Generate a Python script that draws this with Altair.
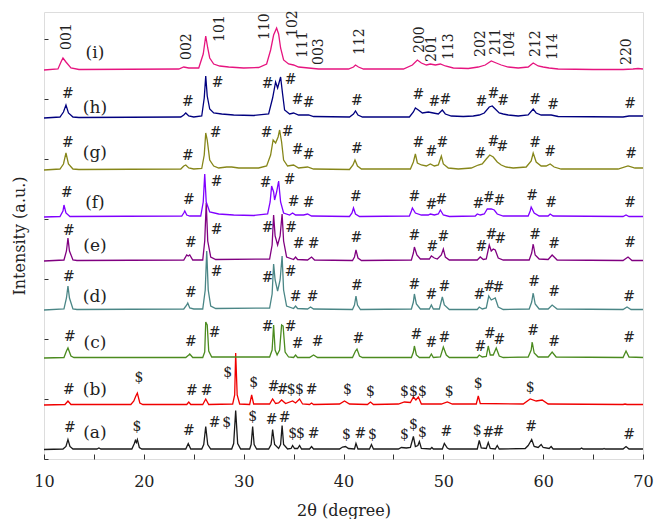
import altair as alt
import pandas as pd

FONT = "DejaVu Serif"
TEXT_COLOR = "#222222"

TRACES = ["a", "b", "c", "d", "e", "f", "g", "h", "i"]
OFFSETS = [9.5, 54, 101, 149, 198, 242, 289, 341, 389]
COLORS = ["#1a1a1a", "#f00000", "#4b8b1f", "#4a8686", "#800080",
          "#8000ff", "#868619", "#00007f", "#e6147f"]

# (2theta, relative intensity) knots
A_PTS = [(10.0, 0), (11.9, 0.5), (12.2, 3), (12.4, 10), (12.6, 3), (12.9, 0.5), (15.3, 0.5), (15.5, 1.5),
         (15.7, 0.5), (18.8, 0.5), (19.05, 6), (19.15, 9), (19.25, 7), (19.35, 10), (19.55, 2), (19.8, 0.5),
         (24.2, 0.5), (24.45, 6), (24.7, 0.5), (25.8, 0.5), (26.0, 5), (26.2, 23), (26.4, 5), (26.7, 0.5),
         (28.8, 0.5), (29.0, 6), (29.2, 39), (29.4, 6), (29.7, 0.5), (30.6, 0.5), (30.75, 5), (30.9, 23),
         (31.05, 5), (31.3, 0.5), (32.5, 0.5), (32.75, 5), (32.9, 20), (33.1, 5), (33.5, 1), (33.7, 5),
         (33.85, 24), (34.0, 5), (34.4, 0.5), (34.75, 1), (34.9, 4), (35.1, 1), (35.4, 1), (35.6, 4),
         (35.8, 0.5), (36.6, 0.5), (36.8, 3), (37.0, 0.5), (39.6, 0.5), (39.9, 2.5), (40.2, 3), (40.5, 1),
         (41.1, 0.5), (41.25, 6), (41.45, 0.5), (42.6, 0.5), (42.8, 5), (43.0, 0.5), (45.5, 0.5), (45.8, 2),
         (46.3, 1.5), (46.7, 2), (47.0, 13), (47.2, 3), (47.45, 4), (47.6, 8), (47.8, 1), (48.7, 0.5),
         (48.85, 2), (49.0, 0.5), (49.9, 0.5), (50.1, 6), (50.4, 1.5), (50.6, 0.5), (53.4, 0.5), (53.6, 9),
         (53.8, 1.5), (54.3, 1), (54.5, 7), (54.7, 1), (55.2, 0.5), (55.4, 4), (55.6, 0.5), (58.2, 1),
         (58.5, 4), (58.85, 10), (59.1, 3), (59.5, 2), (59.8, 5), (60.0, 2), (60.6, 1), (60.8, 3),
         (61.0, 0.5), (63.7, 0.5), (63.85, 1.5), (64.0, 0.5), (66.0, 0.5), (66.1, 1), (66.2, 0.5),
         (68.0, 0.5), (68.3, 3), (68.6, 0.5), (70.0, 0.5)]

B_PTS = [(10, 0), (12.1, 0.5), (12.4, 4), (12.7, 0.5), (18.7, 0.5), (19.0, 4), (19.2, 9), (19.35, 12),
         (19.6, 2), (19.9, 0.5), (24.3, 0.5), (24.5, 3), (24.7, 0.5), (25.9, 0.5), (26.2, 6), (26.5, 0.5),
         (28.9, 1), (29.1, 10), (29.2, 52), (29.35, 10), (29.6, 1), (30.6, 0.5), (30.8, 10), (31.0, 1),
         (32.6, 1), (32.9, 6), (33.2, 1.5), (33.5, 2), (33.8, 5), (34.2, 1.5), (34.9, 4), (35.2, 2),
         (35.6, 6), (35.9, 1), (36.6, 0.5), (36.8, 2), (37.0, 0.5), (39.6, 1), (40.1, 4), (40.6, 1),
         (42.4, 0.5), (42.7, 3), (43.0, 0.5), (45.5, 1), (46.1, 3), (46.7, 2.5), (47.0, 8), (47.25, 5),
         (47.5, 8), (47.8, 1), (49.8, 1), (50.4, 3), (50.9, 1), (53.3, 1), (53.5, 9), (53.7, 1.5),
         (58.0, 1), (58.7, 6), (59.3, 4), (59.9, 5), (60.5, 1), (68.0, 0.5), (68.2, 1), (68.4, 0.5),
         (70, 0.5)]

C_PTS = [(10, 0), (12.0, 0.5), (12.25, 7), (12.4, 10), (12.7, 2), (13.0, 0.5), (24.2, 0.5), (24.5, 3),
         (24.6, 4), (24.9, 0.5), (25.9, 0.5), (26.1, 6), (26.2, 36), (26.35, 33), (26.5, 7), (26.8, 1),
         (32.6, 1), (32.85, 8), (33.0, 33), (33.15, 8), (33.35, 3), (33.6, 8), (33.8, 33), (33.95, 32),
         (34.15, 6), (34.5, 1), (35.0, 0.5), (35.2, 3), (35.4, 0.5), (36.6, 0.5), (37.0, 3), (37.4, 0.5),
         (40.9, 0.5), (41.2, 7), (41.35, 9), (41.6, 2), (41.9, 0.5), (46.8, 0.5), (47.0, 6), (47.1, 12),
         (47.3, 3), (47.6, 0.5), (48.6, 0.5), (48.8, 4), (49.0, 0.5), (49.7, 1), (50.0, 11), (50.3, 3),
         (50.6, 0.5), (53.4, 0.5), (53.6, 3), (53.9, 1), (54.3, 1.5), (54.5, 12), (54.7, 3), (55.0, 3),
         (55.3, 10), (55.6, 2), (56.0, 0.5), (58.5, 1), (58.8, 8), (58.9, 16), (59.1, 5), (59.5, 1),
         (60.5, 1), (60.9, 6), (61.3, 1), (68.0, 0.5), (68.3, 7), (68.6, 1), (70, 0.5)]

D_PTS = [(10, 0), (12.0, 1), (12.25, 12), (12.4, 24), (12.55, 12), (12.9, 1), (13.3, 0.5), (24.0, 1),
         (24.3, 5), (24.4, 7), (24.6, 2), (25.0, 1), (25.9, 1), (26.15, 20), (26.3, 59), (26.45, 20),
         (26.7, 4), (27.2, 1.5), (32.6, 2), (32.85, 16), (33.0, 46), (33.15, 30), (33.4, 19), (33.65, 30),
         (33.85, 54), (34.0, 20), (34.3, 4), (35.0, 1.5), (35.2, 4), (35.4, 1.5), (36.4, 1), (36.7, 3),
         (37.0, 1), (40.9, 0.5), (41.1, 5), (41.25, 14), (41.4, 5), (41.7, 0.5), (46.8, 1), (47.0, 8),
         (47.1, 16), (47.3, 6), (47.7, 1), (48.6, 1), (48.8, 5), (49.0, 1), (49.6, 1), (49.9, 13),
         (50.1, 5), (50.6, 0.5), (53.4, 0.5), (53.6, 3), (53.9, 1), (54.3, 2), (54.55, 14), (54.8, 10),
         (55.2, 12), (55.5, 3), (56.0, 0.5), (58.6, 1), (58.85, 8), (59.0, 17), (59.2, 6), (59.6, 1),
         (60.5, 1), (60.9, 5), (61.4, 1), (68.0, 0.5), (68.4, 3), (68.8, 0.5), (70, 0.5)]

E_PTS = [(10, 0), (12.0, 1), (12.25, 10), (12.4, 23), (12.55, 10), (12.9, 1), (13.3, 0.5), (24.0, 1),
         (24.3, 6), (24.45, 5), (24.6, 6), (24.9, 1), (25.9, 1), (26.1, 20), (26.25, 58), (26.4, 20),
         (26.7, 4), (27.2, 1.5), (32.6, 2), (32.85, 16), (33.0, 46), (33.15, 25), (33.4, 16), (33.65, 25),
         (33.85, 47), (34.0, 20), (34.3, 4), (35.0, 1.5), (35.2, 4), (35.4, 1.5), (36.4, 1), (36.8, 4),
         (37.1, 1), (40.9, 0.5), (41.1, 4), (41.25, 11), (41.45, 3), (41.8, 0.5), (46.8, 1), (47.0, 8),
         (47.1, 14), (47.35, 6), (47.7, 2), (48.6, 2), (48.8, 5), (49.1, 3), (49.4, 2), (49.8, 6),
         (50.0, 12), (50.2, 4), (50.6, 1), (53.4, 1), (53.7, 4), (54.0, 1.5), (54.3, 2), (54.6, 16),
         (54.8, 10), (55.0, 12), (55.2, 11), (55.5, 3), (56.0, 1), (58.6, 1), (58.85, 8), (59.0, 17),
         (59.2, 6), (59.6, 2), (60.5, 1.5), (60.9, 6), (61.4, 1), (68.0, 0.5), (68.5, 4), (68.9, 0.5),
         (70, 0.5)]

F_PTS = [(10, 0), (11.6, 0.5), (11.9, 6), (12.0, 12), (12.2, 4), (12.6, 0.5), (23.8, 1), (24.0, 4),
         (24.1, 6), (24.3, 2), (24.6, 1), (25.7, 1), (25.95, 15), (26.1, 43), (26.25, 15), (26.6, 5),
         (27.5, 3), (29.0, 2), (31.0, 1.5), (32.4, 3), (32.65, 15), (32.8, 31), (33.0, 25), (33.1, 17),
         (33.3, 25), (33.5, 36), (33.7, 15), (34.0, 4), (34.6, 2), (34.9, 4), (35.2, 2), (36.0, 2),
         (36.4, 3), (36.8, 1), (40.6, 0.5), (40.85, 4), (41.0, 9), (41.2, 3), (41.6, 0.5), (46.6, 1),
         (46.8, 6), (46.9, 9), (47.2, 4), (47.8, 2), (48.5, 2), (48.7, 3), (49.1, 2), (49.5, 3),
         (49.7, 7), (50.0, 2), (50.6, 0.5), (53.2, 1), (53.4, 3), (53.7, 2), (54.1, 3), (54.4, 8),
         (54.8, 8), (55.1, 7), (55.4, 3), (56.0, 1), (58.5, 1), (58.7, 6), (58.8, 10), (59.1, 4),
         (59.6, 1), (60.5, 1), (60.7, 3), (61.0, 1), (68.0, 0.5), (68.3, 2), (68.6, 0.5), (70, 0.5)]

G_PTS = [(10, 0), (11.6, 1), (11.95, 6), (12.2, 17), (12.45, 6), (12.9, 1), (13.5, 0.5), (23.7, 1),
         (24.0, 4), (24.2, 5), (24.5, 2), (25.0, 1), (25.8, 1.5), (26.05, 15), (26.2, 37), (26.35, 30),
         (26.6, 10), (27.0, 4), (27.5, 2), (28.3, 3), (28.8, 3), (29.5, 2), (31.5, 2), (32.3, 4),
         (32.7, 15), (32.95, 30), (33.2, 27), (33.45, 33), (33.6, 40), (33.8, 28), (34.0, 10), (34.4, 4),
         (35.0, 5), (35.5, 2), (36.4, 3), (37.0, 1), (40.6, 0.5), (40.95, 5), (41.15, 10), (41.4, 4),
         (41.8, 1), (46.7, 1), (47.0, 8), (47.2, 16), (47.4, 7), (47.8, 5), (48.3, 4), (48.7, 6),
         (49.1, 4), (49.5, 5), (49.8, 14), (50.0, 6), (50.5, 2), (51.5, 1), (52.8, 2), (53.5, 5),
         (53.9, 6), (54.3, 11), (54.65, 15), (55.0, 13), (55.4, 8), (55.8, 5), (56.3, 3), (57.0, 2),
         (58.3, 3), (58.8, 9), (59.0, 17), (59.3, 8), (59.8, 4), (60.3, 4), (60.7, 6), (61.1, 3),
         (61.8, 1), (67.5, 1), (68.5, 4), (69.2, 2), (70, 2)]

H_PTS = [(10, 0), (11.6, 1), (11.95, 6), (12.2, 13), (12.45, 5), (12.9, 1), (13.5, 0.5), (23.7, 1),
         (24.0, 3), (24.2, 5), (24.5, 2), (25.0, 1), (25.8, 2), (26.05, 20), (26.2, 42), (26.35, 22),
         (26.6, 9), (27.0, 5), (27.8, 4), (29.0, 3), (31.0, 2.5), (32.5, 4), (32.9, 20), (33.2, 36),
         (33.4, 30), (33.7, 41), (33.9, 24), (34.1, 8), (34.6, 4), (35.0, 5), (35.5, 3), (36.5, 3),
         (37.0, 1.5), (40.6, 1), (41.0, 4), (41.2, 7), (41.45, 3), (41.9, 1), (46.6, 1), (47.0, 6),
         (47.2, 10), (47.5, 8), (47.9, 5), (48.5, 6), (49.0, 5), (49.5, 4), (49.9, 8), (50.2, 4),
         (50.8, 2), (52.0, 1.5), (53.0, 2), (53.6, 3), (54.1, 5), (54.6, 11), (54.9, 12), (55.2, 9),
         (55.6, 5), (56.0, 4), (56.5, 3), (57.5, 2), (58.5, 3), (59.0, 9), (59.3, 5), (59.8, 3),
         (60.8, 3), (61.5, 1.5), (68.0, 1), (68.6, 2), (70, 2)]

I_PTS = [(10, 0), (11.4, 1), (11.7, 8), (11.9, 12), (12.2, 8), (12.7, 2), (13.5, 0.5), (23.5, 1),
         (24.0, 3), (24.5, 2), (25.5, 2), (25.95, 16), (26.2, 34), (26.4, 22), (26.6, 12), (27.0, 6),
         (27.6, 4), (28.5, 3), (30.0, 2), (31.5, 2.5), (32.3, 6), (32.7, 20), (33.0, 35), (33.3, 42),
         (33.5, 36), (33.7, 22), (34.0, 10), (34.5, 6), (35.0, 5), (35.5, 3), (36.5, 2), (37.5, 1),
         (40.5, 1), (41.0, 3), (41.2, 5), (41.5, 3), (42.0, 1), (46.0, 1), (46.9, 5), (47.4, 10),
         (47.8, 7), (48.3, 5), (48.7, 6), (49.2, 5), (49.7, 6), (50.2, 4), (51.0, 2), (52.5, 1.5),
         (53.5, 3), (54.2, 5), (54.8, 9), (55.3, 7), (55.8, 5), (56.5, 3), (57.5, 2), (58.5, 3),
         (59.0, 7), (59.5, 4), (60.0, 3), (60.6, 2), (61.5, 1), (65, 0.5), (68.0, 0.5), (69.0, 1),
         (69.5, 1.5), (70, 1)]

ALL_PTS = [A_PTS, B_PTS, C_PTS, D_PTS, E_PTS, F_PTS, G_PTS, H_PTS, I_PTS]

# trace labels
LBL_TEXT = ["(a)", "(b)", "(c)", "(d)", "(e)", "(f)", "(g)", "(h)", "(i)"]
LBL_X = [15.1] * 9
LBL_Y = [26, 69, 116, 162, 213, 256, 306, 351, 406]

# phase markers (# and $)
A_SYM_X = [12.6, 19.3, 24.5, 27.1, 28.3, 30.9, 32.8, 34.1, 34.9, 35.7, 37.0, 40.3, 41.7, 42.9, 46.1,
           47.0, 47.9, 50.3, 53.4, 54.5, 55.5, 58.8, 68.6]
A_SYM_Y = [31, 32, 28, 36, 36, 42, 39, 41, 25, 25, 25, 24, 25, 24, 24, 34, 26, 27, 28, 26, 27, 32, 24]
A_SYM_T = ["#", "$", "#", "#", "$", "$", "#", "#", "$", "$", "#", "$", "#", "$", "$", "$", "$", "#",
           "$", "#", "#", "#", "#"]
B_SYM_X = [12.5, 19.5, 24.8, 26.3, 28.4, 31.0, 33.0, 33.9, 34.75, 35.6, 36.8, 40.4, 42.7, 46.1, 47.0,
           47.9, 50.6, 53.5, 58.7]
B_SYM_Y = [69, 81, 68, 68, 86, 76, 72, 69, 69, 69, 69, 69, 67, 67, 67, 67, 67, 75, 71]
B_SYM_T = ["#", "$", "#", "#", "$", "$", "#", "#", "$", "$", "#", "$", "$", "$", "$", "$", "$", "$", "$"]
C_SYM_X = [12.6, 24.7, 27.1, 32.4, 34.7, 35.4, 37.4, 41.5, 47.3, 48.8, 50.1, 53.7, 54.65, 55.6, 59.0,
           61.1, 68.6]
C_SYM_Y = [122, 117, 126, 132, 132, 115, 117, 120, 124, 116, 121, 112, 125, 119, 128, 117, 121]
D_SYM_X = [12.5, 24.7, 27.3, 32.4, 34.7, 35.2, 36.9, 41.35, 47.1, 48.8, 50.1, 53.6, 54.6, 55.5, 59.1,
           61.1, 68.6]
D_SYM_Y = [182, 166, 187, 181, 187, 162, 162, 173, 174, 164, 172, 164, 172, 171, 177, 167, 162]
E_SYM_X = [12.5, 24.7, 27.3, 32.4, 34.75, 35.5, 37.0, 41.3, 47.1, 48.9, 50.0, 53.8, 54.8, 55.7, 59.2,
           61.1, 68.7]
E_SYM_Y = [228, 216, 229, 231, 231, 215, 215, 221, 223, 212, 222, 212, 224, 220, 224, 215, 216]
F_SYM_X = [12.3, 24.5, 27.3, 32.2, 34.6, 35.0, 36.5, 41.25, 47.1, 48.8, 49.8, 53.5, 54.55, 55.6, 58.9,
           60.8, 68.7]
F_SYM_Y = [266, 259, 277, 276, 279, 257, 256, 262, 262, 254, 259, 255, 261, 258, 263, 256, 256]
G_SYM_X = [12.4, 24.4, 27.2, 32.3, 34.4, 35.4, 36.5, 41.35, 47.5, 48.8, 49.9, 53.7, 55.0, 55.9, 59.2,
           60.7, 68.8]
G_SYM_Y = [316, 303, 326, 326, 327, 309, 304, 310, 316, 307, 316, 305, 317, 312, 316, 307, 305]
H_SYM_X = [12.4, 24.4, 27.4, 32.4, 34.7, 35.4, 36.5, 41.35, 47.5, 49.1, 50.2, 53.8, 55.0, 56.0, 59.2,
           61.0, 68.7]
H_SYM_Y = [365, 357, 376, 375, 379, 359, 356, 358, 364, 357, 359, 357, 365, 358, 359, 354, 355]

# Miller indices above the top pattern
IDX_T = ["001", "002", "101", "110", "102", "111", "003", "112", "200", "201", "113", "202", "211",
         "104", "212", "114", "220"]
IDX_X = [12.3, 24.3, 27.6, 32.1, 34.9, 35.9, 37.5, 41.7, 47.7, 48.9, 50.6, 53.8, 55.3, 56.7, 59.3,
         61.0, 68.4]
IDX_Y = [409, 399, 417, 419, 422, 401, 394, 404, 406, 397, 399, 402, 404, 401, 402, 399, 394]

X_TICKS = [10, 15, 20, 25, 30, 35, 40, 45, 50, 55, 60, 65, 70]
Y_TICKS = [15 * k for k in range(30)]

# ---------- build tables ----------
rows = []
for name, off, pts in zip(TRACES, OFFSETS, ALL_PTS):
    for x, y in pts:
        rows.append({"trace": name, "x": x, "y": off + y})
lines_df = pd.DataFrame(rows)

sym_rows = []
for xs, ys, ts in [(A_SYM_X, A_SYM_Y, A_SYM_T), (B_SYM_X, B_SYM_Y, B_SYM_T)]:
    for x, y, t in zip(xs, ys, ts):
        sym_rows.append({"x": x, "y": y, "t": t})
for xs, ys in [(C_SYM_X, C_SYM_Y), (D_SYM_X, D_SYM_Y), (E_SYM_X, E_SYM_Y), (F_SYM_X, F_SYM_Y),
               (G_SYM_X, G_SYM_Y), (H_SYM_X, H_SYM_Y)]:
    for x, y in zip(xs, ys):
        sym_rows.append({"x": x, "y": y, "t": "#"})
sym_df = pd.DataFrame(sym_rows)

lbl_df = pd.DataFrame({"x": LBL_X, "y": LBL_Y, "t": LBL_TEXT})
idx_df = pd.DataFrame({"x": IDX_X, "y": IDX_Y, "t": IDX_T})

x_scale = alt.Scale(domain=[10, 70], nice=False, zero=False)
y_scale = alt.Scale(domain=[0, 447], nice=False, zero=False)

x_axis = alt.Axis(values=X_TICKS, labelExpr="datum.value % 10 == 0 ? datum.label : ''",
                  tickSize=5, offset=-5, domain=False, grid=False, labelFlush=False,
                  labelOverlap=False, labelFont=FONT, labelFontSize=16, labelColor=TEXT_COLOR,
                  labelPadding=14, tickColor="#333333", title="2θ (degree)", titleFont=FONT,
                  titleFontSize=16, titleFontWeight="normal", titleColor=TEXT_COLOR, titlePadding=13)
y_axis = alt.Axis(values=Y_TICKS, labels=False, tickSize=4, offset=-4, domain=False, grid=False,
                  tickColor="#333333", title="Intensity (a.u.)", titleFont=FONT, titleFontSize=16,
                  titleFontWeight="normal", titleColor=TEXT_COLOR, titlePadding=16)

lines = alt.Chart(lines_df).mark_line(strokeWidth=1.3).encode(
    x=alt.X("x:Q", scale=x_scale, axis=x_axis),
    y=alt.Y("y:Q", scale=y_scale, axis=y_axis),
    color=alt.Color("trace:N", scale=alt.Scale(domain=TRACES, range=COLORS), legend=None),
)

syms = alt.Chart(sym_df).mark_text(font=FONT, fontSize=14, color=TEXT_COLOR, baseline="middle",
                                   align="center").encode(
    x=alt.X("x:Q", scale=x_scale), y=alt.Y("y:Q", scale=y_scale), text="t:N")

lbls = alt.Chart(lbl_df).mark_text(font=FONT, fontSize=17, color=TEXT_COLOR, baseline="middle",
                                   align="center").encode(
    x=alt.X("x:Q", scale=x_scale), y=alt.Y("y:Q", scale=y_scale), text="t:N")

idx = alt.Chart(idx_df).mark_text(font=FONT, fontSize=14, color=TEXT_COLOR, baseline="middle",
                                  align="left", angle=270).encode(
    x=alt.X("x:Q", scale=x_scale), y=alt.Y("y:Q", scale=y_scale), text="t:N")

chart = alt.layer(lines, syms, lbls, idx).properties(
    width=599, height=447,
    autosize=alt.AutoSizeParams(type="none"),
    padding={"left": 36, "top": 4, "right": 11, "bottom": 60},
).configure_view(stroke="#333333", strokeWidth=1.2).configure(background="white")

chart.save("out.html", embed_options={"renderer": "svg", "actions": False})
